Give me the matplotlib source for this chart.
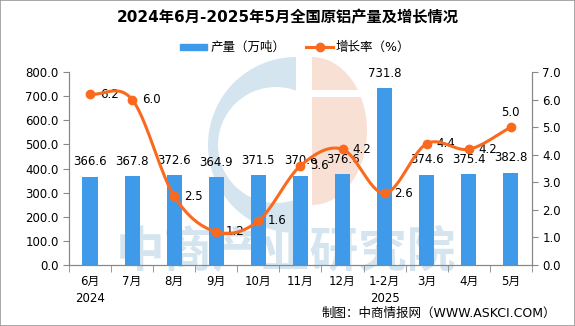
import numpy as np
import matplotlib.pyplot as plt
from matplotlib.patches import Wedge, Rectangle, Circle, Polygon
from matplotlib.lines import Line2D

plt.rcParams['font.family'] = ['DejaVu Sans', 'Noto Sans CJK SC']

months = ['6月\n2024', '7月', '8月', '9月', '10月', '11月', '12月', '1-2月\n2025', '3月', '4月', '5月']
output = [366.6, 367.8, 372.6, 364.9, 371.5, 370.6, 376.6, 731.8, 374.6, 375.4, 382.8]
growth = [6.2, 6.0, 2.5, 1.2, 1.6, 3.6, 4.2, 2.6, 4.4, 4.2, 5.0]

bar_color = '#3f9bea'
line_color = '#fa6a1e'
wm_blue = '#d4e5f0'
wm_orange = '#f9e0d5'


def catmull_rom(xs, ys, n=30):
    # smooth curve through every point
    px = np.concatenate([[2*xs[0]-xs[1]], xs, [2*xs[-1]-xs[-2]]])
    py = np.concatenate([[2*ys[0]-ys[1]], ys, [2*ys[-1]-ys[-2]]])
    outx, outy = [], []
    for i in range(1, len(px)-2):
        t = np.linspace(0, 1, n, endpoint=False)
        for arr, out in ((px, outx), (py, outy)):
            p0, p1, p2, p3 = arr[i-1], arr[i], arr[i+1], arr[i+2]
            out.extend(0.5*((2*p1) + (-p0+p2)*t + (2*p0-5*p1+4*p2-p3)*t**2 + (-p0+3*p1-3*p2+p3)*t**3))
    outx.append(xs[-1]); outy.append(ys[-1])
    return np.array(outx), np.array(outy)


fw, fh = 575, 326
fig = plt.figure(figsize=(5.75, 3.26), dpi=100)
ax = fig.add_axes([0.12, 0.187, 0.805, 0.592])
ax2 = ax.twinx()


def px(xp, yp):
    # pixel position from top-left -> inches for dpi_scale_trans
    return (xp / 100, (fh - yp) / 100)


# watermark logo and text, under the bars
inch = fig.dpi_scale_trans
wm = dict(transform=inch, zorder=1, clip_on=False, lw=0)
ax.add_patch(Wedge(px(296, 145), 0.88, 90, 270, color=wm_blue, **wm))
ax.add_patch(Circle(px(276, 145), 0.58, color='white', **wm))
t = np.linspace(-np.pi/2, np.pi/2, 60)
ax.add_patch(Polygon(np.column_stack([(312 + 55*np.cos(t)) / 100, (fh - (131 - 74*np.sin(t))) / 100]),
                     closed=True, color=wm_orange, **wm))
ax.add_patch(Rectangle(px(310, 97), 0.62, 0.07, color='white', **wm))
ax.text(286/fw, 1 - 253/fh, '中商产业研究院', transform=fig.transFigure, ha='center', va='center',
        fontsize=35, fontweight='bold', color=wm_blue, zorder=1, clip_on=False,
        family=['Noto Sans CJK SC'])

x = np.arange(len(months))
ax.bar(x, output, width=0.36, color=bar_color, zorder=2)
for xi, v in zip(x, output):
    ax.annotate(f'{v:.1f}', (xi, v), xytext=(0, 6), textcoords='offset points',
                ha='center', va='bottom', fontsize=8.5, zorder=4)

ax.set_ylim(0, 800)
ax.set_yticks(np.arange(0, 801, 100))
ax.set_yticklabels([f'{v:.1f}' for v in np.arange(0, 801, 100)])
ax.set_xlim(-0.5, 10.5)
ax.set_xticks(x)
ax.set_xticklabels(months, fontsize=8.5, linespacing=1.4)
ax.set_xticks(np.arange(-0.5, 11, 1), minor=True)
ax.tick_params(axis='x', which='major', length=0, pad=7)
ax.tick_params(axis='x', which='minor', length=5, color='#888888')
ax.tick_params(axis='y', labelsize=8.5, length=4, color='#888888')

sx, sy = catmull_rom(x.astype(float), np.array(growth))
ax2.plot(sx, sy, color=line_color, lw=2.2, zorder=5)
ax2.plot(x, growth, 'o', color=line_color, ms=6, zorder=6)
for xi, v in zip(x, growth):
    if xi == len(x) - 1:
        ax2.annotate(f'{v:.1f}', (xi, v), xytext=(0, 6), textcoords='offset points',
                     ha='center', va='bottom', fontsize=8.5)
    else:
        ax2.annotate(f'{v:.1f}', (xi, v), xytext=(7, 0), textcoords='offset points',
                     ha='left', va='center', fontsize=8.5)
ax2.set_ylim(0, 7)
ax2.set_yticks(np.arange(0, 7.1, 1))
ax2.set_yticklabels([f'{v:.1f}' for v in np.arange(0, 7.1, 1)])
ax2.tick_params(axis='y', labelsize=8.5, length=4, color='#888888')

for a in (ax, ax2):
    a.spines['top'].set_visible(False)
    for s in ('left', 'right', 'bottom'):
        a.spines[s].set_color('#888888')

fig.text(0.5, 1 - 18/fh, '2024年6月-2025年5月全国原铝产量及增长情况', ha='center', va='center',
         fontsize=11, fontweight='bold', family=['DejaVu Sans', 'Noto Sans CJK SC'])

# legend
fig.patches.append(Rectangle((180/fw, 1 - 50/fh), 27/fw, 6/fh, transform=fig.transFigure,
                             color=bar_color))
fig.text(211/fw, 1 - 47/fh, '产量（万吨）', va='center', fontsize=9)
fig.lines.append(Line2D([306/fw, 333/fw], [1 - 47/fh, 1 - 47/fh], transform=fig.transFigure,
                        color=line_color, lw=2.2))
fig.lines.append(Line2D([319.5/fw], [1 - 47/fh], transform=fig.transFigure,
                        color=line_color, marker='o', ms=6))
fig.text(336/fw, 1 - 47/fh, '增长率（%）', va='center', fontsize=9)

fig.text(556/fw, 1 - 313/fh, '制图：中商情报网（WWW.ASKCI.COM）', ha='right', va='center', fontsize=9)

fig.patches.append(Rectangle((0, 0), 1, 1, transform=fig.transFigure, fill=False,
                             edgecolor='#999999', lw=1.2))

fig.savefig('out.png', dpi=100)
